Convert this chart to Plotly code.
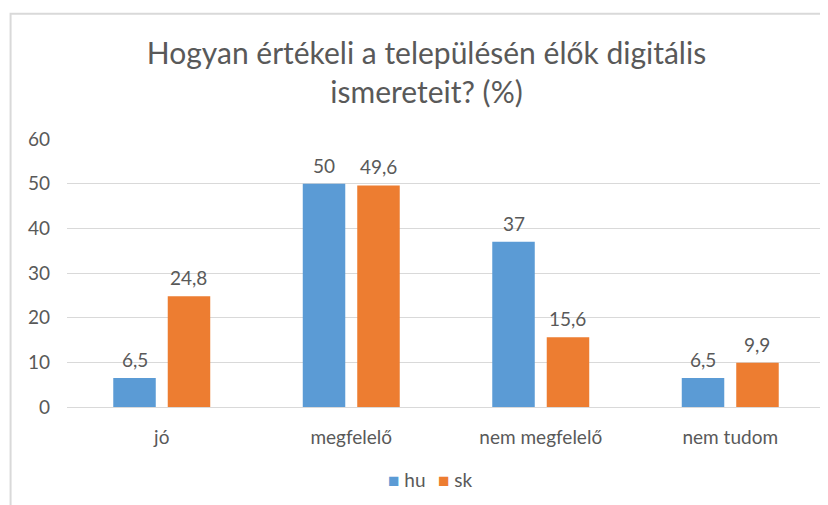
import plotly.graph_objects as go

categories = ["jó", "megfelelő", "nem megfelelő", "nem tudom"]
hu = [6.5, 50, 37, 6.5]
sk = [24.8, 49.6, 15.6, 9.9]
hu_labels = ["6,5", "50", "37", "6,5"]
sk_labels = ["24,8", "49,6", "15,6", "9,9"]
y_ticks = [0, 10, 20, 30, 40, 50, 60]
series_names = ["hu", "sk"]
series_colors = ["#5B9BD5", "#ED7D31"]

FONT = "Lato, Carlito, Calibri, sans-serif"
GRAY = "#595959"
FS = 19

# page has an 8px body margin, so figure coords = page coords - 8
W, H = 820, 497
ML, MT, MR, MB = 58.5, 131.3, 2.5, 97.5
PW = W - ML - MR
PH = H - MT - MB

fig = go.Figure()
for name, vals, color in zip(series_names, [hu, sk], series_colors):
    fig.add_trace(go.Bar(name=name, x=categories, y=vals,
                         marker=dict(color=color, line=dict(width=0))))

annotations = []
# value labels above bars
for vals, labels, xs in zip([hu, sk], [hu_labels, sk_labels], [-27, 27]):
    for c, v, t in zip(categories, vals, labels):
        annotations.append(dict(text=t, x=c, y=v, xref="x", yref="y", showarrow=False,
                                xanchor="center", yanchor="bottom", xshift=xs, yshift=5,
                                font=dict(size=FS, color=GRAY, family=FONT)))

# legend drawn as text annotations (colored squares + names)
legend_x = [(390 - 8 - ML - 4) / PW, (440 - 8 - ML - 4) / PW]
for name, color, lx in zip(series_names, series_colors, legend_x):
    annotations.append(dict(
        text=f"<span style='color:{color}'>■</span> {name}", xref="paper", yref="paper",
        x=lx, y=(PH - (480 - 8 - MT)) / PH, xanchor="left", yanchor="middle", showarrow=False,
        font=dict(size=FS, color=GRAY, family=FONT)))

fig.update_layout(
    width=W, height=H,
    paper_bgcolor="white", plot_bgcolor="white",
    font=dict(family=FONT, color=GRAY),
    title=dict(text="Hogyan értékeli a településén élők digitális<br>ismereteit? (%)",
               x=(426.5 - 8) / W, xanchor="center", y=1 - 56 / H, yanchor="top",
               font=dict(size=30, color=GRAY, family=FONT)),
    margin=dict(l=ML, r=MR, t=MT, b=MB),
    barmode="group", bargap=0.425, bargroupgap=0.22,
    showlegend=False,
    annotations=annotations,
    xaxis=dict(showgrid=False, showline=True, linecolor="#D9D9D9", linewidth=1,
               tickfont=dict(size=FS, color=GRAY, family=FONT), ticks="", ticklabelstandoff=13),
    yaxis=dict(range=[0, 60], tickvals=y_ticks, showgrid=True, gridcolor="#D9D9D9",
               gridwidth=1, zeroline=False, showline=False,
               tickfont=dict(size=FS, color=GRAY, family=FONT), ticklabelstandoff=16),
    shapes=[dict(type="rect", xref="paper", yref="paper",
                 x0=(2 - ML) / PW, x1=1.1, y0=-0.6, y1=(PH - (6 - MT)) / PH,
                 line=dict(color="#D9D9D9", width=2), fillcolor="rgba(0,0,0,0)", layer="below")],
)

fig.write_html("out.html")
